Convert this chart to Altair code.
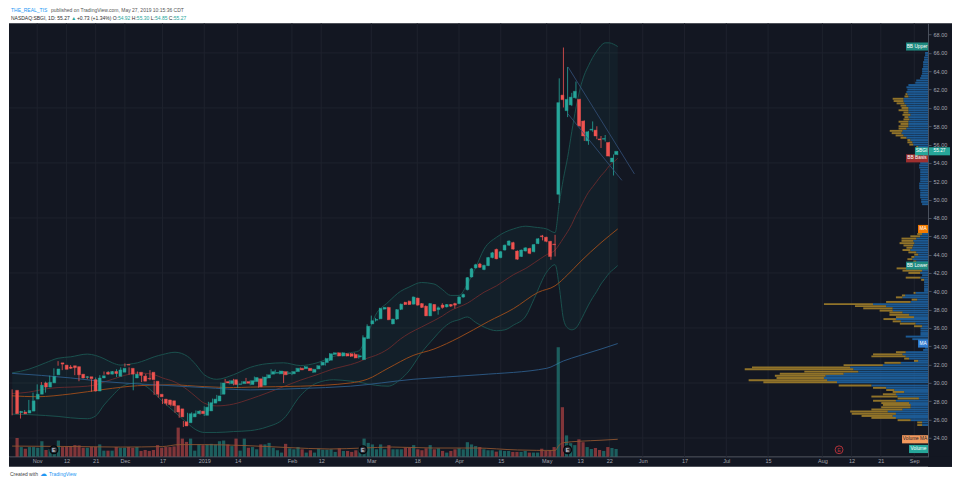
import altair as alt
import pandas as pd

W, H = 920, 434
BG = "#131722"
GRID = "#1e222d"
UP = "#26a69a"
DN = "#ef5350"
AXT = "#a3a6af"
FONT = "Liberation Sans"

# bar index 0 = 1 Nov 2018 (trading days; future part counts weekdays)
bar_index = list(range(-6, 140))
opens = [29.2, 26.76, 26.83, 26.72, 26.93, 28.24, 28.77, 30.01, 29.55, 30.01,
         30.89, 32.2, 31.95, 31.74, 31.88, 31.78, 30.96, 30.61, 30.68, 30.36,
         29.12, 30.54, 31.17, 30.96, 31.25, 30.72, 31.17, 32.02, 31.6, 30.54,
         31.17, 30.75, 30.5, 31.17, 30.19, 28.77, 28.24, 28.15, 28.06, 27.53,
         27.18, 25.77, 25.66, 26.3, 26.65, 26.93, 26.47, 26.95, 27.8, 28.03,
         28.77, 30.15, 29.93, 30.36, 29.85, 29.93, 30.15, 29.83, 30.15, 30.46,
         29.76, 30.54, 30.96, 31.07, 31.0, 31.24, 31.05, 31.0, 31.24, 31.6,
         31.56, 31.6, 31.17, 31.53, 31.95, 32.23, 32.48, 33.12, 33.29, 32.94,
         33.19, 33.19, 33.12, 32.83, 32.55, 34.85, 36.44, 36.85, 37.0, 38.06,
         38.24, 36.44, 36.97, 38.03, 38.8, 38.91, 38.6, 39.26, 38.66, 38.38,
         37.32, 38.56, 38.0, 38.5, 38.3, 38.56, 38.66, 38.66, 39.37, 40.18,
         41.56, 42.55, 42.98, 42.38, 42.8, 43.68, 44.57, 43.68, 44.5, 45.03,
         45.31, 44.39, 43.79, 44.39, 44.67, 44.32, 45.2, 46.05, 45.9, 45.45,
         45.15, 50.58, 61.4, 59.7, 60.33, 61.11, 60.94, 58.57, 56.41, 57.58,
         57.58, 56.62, 56.59, 56.23, 54.11, 54.92]
highs = [29.3, 27.0, 26.95, 27.05, 28.15, 28.95, 29.85, 30.1, 30.15, 30.8,
         31.6, 32.38, 32.05, 31.85, 31.95, 31.85, 31.0, 30.8, 30.75, 30.4,
         30.6, 30.85, 31.25, 31.3, 31.3, 31.5, 31.7, 32.13, 31.7, 31.05,
         31.25, 30.85, 31.0, 31.4, 30.25, 28.85, 28.3, 28.2, 28.1, 27.6,
         27.25, 25.85, 26.75, 26.8, 27.0, 27.05, 27.45, 27.95, 28.3, 28.7,
         30.05, 30.44, 30.3, 30.45, 30.2, 30.2, 30.55, 30.3, 30.7, 30.5,
         30.7, 30.95, 31.5, 31.45, 31.35, 31.3, 31.3, 31.3, 31.65, 31.7,
         31.85, 31.65, 31.55, 31.95, 32.35, 32.75, 33.25, 33.35, 33.35, 33.35,
         33.25, 33.25, 33.3, 33.12, 35.2, 36.4, 37.35, 37.1, 38.2, 38.3,
         38.3, 37.0, 38.05, 38.65, 38.85, 39.0, 39.45, 39.3, 38.7, 38.45,
         38.7, 38.6, 38.35, 38.7, 38.6, 38.6, 38.75, 39.45, 39.75, 41.55,
         42.55, 43.0, 43.1, 42.9, 43.75, 44.3, 44.65, 44.4, 45.1, 45.55,
         45.4, 44.45, 44.55, 44.8, 44.75, 45.15, 45.8, 46.15, 45.95, 45.5,
         46.16, 63.23, 66.59, 64.47, 61.65, 62.88, 61.0, 58.65, 57.5, 58.53,
         58.0, 56.94, 57.05, 56.3, 54.93, 55.30]
lows = [26.47, 26.65, 26.12, 26.6, 26.85, 28.1, 28.6, 29.45, 28.95, 29.95,
        30.8, 31.88, 31.4, 31.5, 31.55, 30.85, 30.19, 30.5, 30.4, 29.05,
        29.05, 30.45, 30.9, 30.9, 30.95, 30.65, 31.1, 31.78, 30.9, 29.2,
        30.75, 30.1, 30.35, 30.3, 28.7, 28.4, 27.7, 27.55, 27.45, 26.75,
        26.2, 25.2, 25.55, 26.2, 26.55, 26.55, 26.4, 26.9, 27.7, 27.95,
        28.7, 29.95, 29.85, 29.75, 29.47, 29.85, 29.9, 29.75, 30.1, 29.5,
        29.7, 30.45, 30.9, 31.0, 30.95, 30.0, 30.9, 30.85, 31.2, 31.4,
        31.5, 31.3, 31.1, 31.5, 31.9, 31.9, 32.4, 33.05, 32.9, 32.9,
        32.9, 32.85, 32.7, 32.66, 32.5, 34.8, 36.4, 36.7, 36.95, 38.0,
        36.85, 36.4, 36.9, 37.95, 38.5, 38.5, 38.55, 38.45, 38.2, 37.3,
        37.3, 37.8, 37.45, 38.1, 38.25, 38.3, 38.13, 38.6, 39.3, 40.1,
        41.5, 42.5, 42.55, 42.3, 42.75, 43.6, 43.5, 43.6, 44.45, 44.95,
        44.55, 43.45, 43.75, 44.35, 44.05, 44.25, 45.15, 45.55, 45.35, 43.44,
        43.8, 49.62, 60.05, 59.0, 60.2, 61.0, 57.95, 56.4, 55.98, 57.4,
        56.59, 55.63, 56.34, 54.7, 52.63, 54.85]
closes = [26.65, 26.9, 26.65, 27.0, 28.06, 28.77, 29.76, 29.55, 30.08, 30.72,
          31.53, 32.06, 31.49, 31.6, 31.67, 30.89, 30.54, 30.68, 30.47, 29.12,
          30.54, 30.79, 30.96, 31.25, 31.03, 31.42, 31.6, 31.95, 30.96, 30.96,
          30.82, 30.19, 30.45, 30.36, 28.77, 28.49, 27.78, 27.64, 27.53, 26.83,
          26.3, 25.31, 26.65, 26.65, 26.93, 26.65, 27.36, 27.85, 28.24, 28.59,
          30.0, 30.0, 30.25, 29.83, 29.9, 30.15, 29.97, 30.25, 30.6, 29.58,
          30.64, 30.89, 31.24, 31.14, 31.3, 30.89, 31.1, 31.24, 31.6, 31.43,
          31.77, 31.35, 31.49, 31.88, 32.27, 32.66, 33.19, 33.29, 32.94, 33.29,
          32.94, 32.91, 32.73, 32.97, 34.95, 36.19, 36.79, 36.93, 38.14, 38.24,
          36.9, 36.97, 38.0, 38.6, 38.56, 38.56, 39.37, 38.49, 38.24, 37.32,
          38.66, 37.85, 38.2, 38.24, 38.56, 38.38, 38.49, 39.37, 39.65, 41.49,
          42.45, 42.9, 42.62, 42.83, 43.68, 44.2, 43.54, 44.32, 45.03, 45.49,
          44.6, 43.5, 44.5, 44.74, 44.14, 45.1, 45.73, 45.95, 45.45, 43.79,
          45.08, 60.58, 60.9, 60.94, 61.18, 61.82, 58.04, 56.94, 57.4, 57.68,
          56.94, 56.52, 56.66, 54.75, 54.54, 55.27]
volumes = [19.3, 10, 8.3, 10, 10, 9.3, 16, 7, 8, 10.3,
           16.7, 10, 10.7, 11, 12, 11.7, 9.3, 9.3, 10.3, 10.3,
           12.7, 6.3, 6.3, 6.3, 10, 9.3, 9.3, 10, 9.3, 10,
           6, 7, 6, 7, 12, 9.3, 10, 10, 10.7, 30,
           18.7, 15.3, 18.7, 6.3, 12.7, 12, 12.7, 13.3, 12.7, 16,
           16.7, 12.7, 11, 18.7, 6.3, 18.7, 9.3, 10, 7.7, 12.7,
           12.7, 14.3, 9.3, 6.7, 4.3, 13.3, 8.7, 7.7, 10, 7.7,
           4.3, 6.7, 4.3, 8.3, 7.3, 7.3, 7.7, 5, 8.7, 6,
           6, 5, 6.7, 8.7, 18.7, 14.3, 12.7, 7.7, 12.7, 7.7,
           12, 7.7, 7.7, 7.7, 9.3, 9.3, 12, 7.7, 6.7, 8.7,
           12, 7.7, 8.7, 6, 4.3, 6, 7.7, 8.7, 7.7, 15,
           12.7, 11, 10, 7.7, 6.7, 6.7, 5.3, 6.7, 6, 6,
           5, 5, 5, 6, 4.3, 4.3, 4.3, 8.3, 6, 6.7,
           10, 112.7, 51, 22, 14, 12, 18, 15, 10, 8,
           9, 7, 6, 10, 9, 8]

bb_idx = [-6, -2, 2, 5, 8, 12, 14, 16, 18, 20, 22, 24, 26, 28, 30, 33, 36, 38, 40, 43,
          47, 51, 55, 59, 63, 67, 71, 75, 77, 79, 81, 84, 87, 89, 92, 95, 97, 99, 101, 103,
          105, 107, 110, 112, 114, 117, 119, 122, 124, 125, 126, 127, 128, 129, 130, 131,
          132, 133, 134, 135, 136, 137, 138, 139]
bb_upper = [31.1, 31.5, 32.2, 32.7, 32.85, 33.15, 33.0, 32.65, 32.2, 31.95,
            32.05, 32.2, 32.5, 32.85, 33.1, 33.35, 32.9, 32.0, 30.9, 30.4,
            30.9, 31.7, 32.1, 32.2, 31.9, 32.2, 32.9, 33.3, 33.5, 35.2,
            37.4, 38.8, 40.0, 40.45, 40.96, 40.8, 40.2, 39.55, 39.55, 40.8,
            42.6, 44.6, 45.9, 46.45, 46.8, 47.1, 47.0, 46.8, 46.4, 49.6,
            52.3, 54.6, 57.4, 60.0, 62.1, 63.6, 64.6, 65.5, 66.2, 66.8,
            67.1, 67.1, 66.95, 66.7]
bb_lower = [26.6, 26.55, 26.45, 26.35, 26.2, 26.1, 26.4, 27.6, 28.6, 29.5,
            29.9, 30.0, 29.65, 28.9, 28.0, 26.8, 25.6, 24.9, 24.6, 24.6,
            24.7, 24.8, 25.2, 26.1, 28.6, 30.0, 30.35, 30.2, 30.1, 29.9,
            29.75, 29.65, 30.4, 31.3, 33.3, 34.9, 35.9, 36.6, 36.9, 37.2,
            36.6, 36.1, 35.7, 35.8, 36.3, 37.3, 39.2, 42.1, 42.9, 40.5,
            37.0, 36.0, 35.8, 36.0, 36.7, 37.6, 38.5, 39.3, 40.0, 40.8,
            41.4, 42.0, 42.4, 42.8]
bb_basis = [28.85, 29.0, 29.35, 29.5, 29.55, 29.65, 29.8, 30.1, 30.4, 30.7,
            30.95, 31.1, 31.05, 30.9, 30.55, 30.1, 29.25, 28.5, 27.8, 27.5,
            27.7, 28.25, 28.9, 29.6, 30.3, 30.9, 31.55, 32.0, 32.3, 32.7,
            33.0, 33.7, 34.8, 35.4, 36.1, 36.8, 37.3, 37.9, 38.3, 38.7,
            39.3, 39.9, 40.6, 41.2, 41.8, 42.5, 43.1, 44.0, 44.5, 45.1,
            45.8, 46.5, 47.3, 48.3, 49.1, 50.0, 50.8, 51.4, 52.0, 52.6,
            53.1, 53.7, 54.1, 54.5]

ma_orange_idx = [-6, 0, 8, 16, 24, 32, 40, 47, 51, 63, 75, 79, 84, 90, 95, 101, 108,
                 114, 120, 124, 127, 130, 135, 139]
ma_orange = [28.6, 28.5, 28.8, 29.3, 29.7, 29.8, 29.6, 29.5, 29.55, 29.65, 30.0, 30.4,
             31.6, 33.0, 33.7, 34.95, 36.7, 38.1, 39.9, 40.6, 41.8, 43.2, 45.3, 46.8]
ma_blue_idx = [-6, 8, 16, 28, 40, 51, 63, 75, 90, 106, 122, 126, 130, 135, 139]
ma_blue = [31.05, 30.55, 30.15, 29.8, 29.5, 29.25, 29.4, 29.65, 30.4, 30.9, 31.6,
           32.4, 33.0, 33.7, 34.3]
vol_ma_idx = [-6, 10, 20, 30, 34, 40, 50, 60, 70, 78, 85, 95, 105, 115, 124, 125, 126,
              130, 135, 139]
vol_ma = [11, 10.5, 10, 10.5, 12.5, 12.5, 11.5, 9.5, 8, 9, 10, 9, 9, 7, 6.5, 12, 14.5,
          16, 17, 18]

trend_a_idx = [127.1, 143.0]
trend_a = [64.47, 52.8]
trend_b_idx = [127.1, 140.0]
trend_b = [59.35, 52.1]

earn_idx = [4, 78, 127]
earn_future_idx = [192]

price_ticks = list(range(24, 70, 2))
grid_prices = [24, 30, 36, 42, 48, 54, 60, 66]
date_tick_idx = [0, 7, 14, 21, 30, 40, 48, 61, 68, 80, 91, 101, 111, 122, 130, 137,
                 145, 155, 165, 175, 188, 195, 202, 210]
date_tick_lab = ["Nov", "12", "21", "Dec", "17", "2019", "14", "Feb", "12", "Mar", "18",
                 "Apr", "15", "May", "13", "22", "Jun", "17", "Jul", "15", "Aug", "12",
                 "21", "Sep"]

# visible-range volume profile: price row, up volume, down volume
vp_price = [66.0, 65.75, 65.5, 65.25, 65.0, 64.75, 64.5, 64.25, 64.0, 63.75, 63.5, 63.25,
            63.0, 62.75, 62.5, 62.25, 62.0, 61.75, 61.5, 61.25, 61.0, 60.75, 60.5, 60.25,
            60.0, 59.75, 59.5, 59.25, 59.0, 58.75, 58.5, 58.25, 58.0, 57.75, 57.5, 57.25,
            57.0, 56.75, 56.5, 56.25, 56.0, 55.75, 55.5, 55.25, 55.0, 54.75, 54.5, 54.25,
            54.0, 53.75, 53.5, 53.25, 53.0, 52.75, 52.5, 52.25, 52.0, 51.75, 51.5, 51.25,
            51.0, 50.75, 50.5, 50.25, 50.0, 49.75, 49.5,
            46.5, 46.25, 46.0, 45.75, 45.5, 45.25, 45.0, 44.75, 44.5, 44.25, 44.0, 43.75,
            43.5, 43.25, 43.0, 42.75, 42.5, 42.25, 42.0, 41.75,
            41.49, 41.25, 41.0, 40.75, 40.5, 40.25, 40.05, 39.83, 39.55, 39.34, 39.09,
            38.84, 38.6, 38.38, 38.14, 37.89, 37.68, 37.43, 37.18, 36.97, 36.72, 36.47,
            36.19, 35.95, 35.7, 35.45, 35.25, 35.06, 34.78, 34.55, 34.3, 34.07, 33.85,
            33.6, 33.36, 33.12, 32.9, 32.66, 32.41, 32.2, 31.95, 31.7, 31.49, 31.24, 31.0,
            30.78, 30.54, 30.29, 30.08, 29.72, 29.47, 29.23, 29.02, 28.77, 28.52, 28.31,
            28.06, 27.81, 27.6, 27.35, 27.11, 26.89, 26.65, 26.4, 26.19, 25.94, 25.69,
            25.41]
vp_up = [3, 3, 4, 4, 5, 5, 5, 6, 6, 6, 7, 8,
         12, 13, 20, 22, 21, 22, 21, 20, 25, 25, 24, 22,
         20, 20, 20, 18, 20, 19, 20, 20, 20, 22, 26, 27,
         25, 22, 18, 16, 15, 10, 8, 8, 9, 9, 8, 8,
         8, 9, 9, 8, 8, 8, 8, 8, 8, 9, 9, 9,
         8, 8, 8, 8, 7, 7, 6,
         3, 6, 8, 12, 15, 14, 15, 16, 18, 12, 10, 14,
         16, 12, 10, 8, 7, 6, 8, 6,
         7.7, 4, 4, 4, 4, 4, 4, 12.7, 23.3, 26, 11,
         17.7, 56, 42.7, 36, 36, 26, 19.3, 14.3, 32.7, 27.7, 12.7,
         6, 7.7, 7.7, 7.7, 7.7, 22.7, 16, 3, 3, 3, 3,
         5, 22.7, 26, 22.7, 19.3, 10, 27.7, 46, 79.3, 76, 71, 86,
         104.3, 106, 102.7, 92.7, 57.7, 42.7, 34.3, 24.3, 32.7, 31, 9.3,
         32.7, 19.3, 17.7, 17.7, 26, 41, 32.7, 36, 32.7, 17.7, 6,
         6]
vp_down = [0, 0, 0, 0, 0, 0, 0, 0, 0, 0, 0, 0,
           0, 0, 0, 0, 0, 0, 2, 4, 11, 10, 8, 6,
           7, 10, 5, 8, 4, 6, 10, 8, 10, 8, 13, 10,
           8, 6, 3, 5, 4, 2, 0, 0, 0, 0, 0, 0,
           0, 0, 0, 0, 0, 0, 0, 0, 0, 0, 0, 0,
           0, 0, 0, 0, 0, 0, 0,
           4, 5, 10, 15, 12, 15, 10, 6, 8, 8, 4, 3,
           5, 3, 0, 2, 25, 20, 12, 0,
           15, 3, 0, 0, 0, 0, 0, 2, 3.3, 6.7, 5.7,
           25, 50, 31.7, 30, 13.3, 13.3, 20, 18.3, 12.7, 8.3, 16,
           8.3, 0, 0, 0, 0, 0, 0, 0, 0, 0, 0,
           0, 10, 30, 35, 5, 4.3, 16.7, 40, 100, 110.7, 55, 65,
           51.7, 48.3, 80, 75, 33.3, 13.3, 8.3, 11.7, 13.3, 26.7, 21.7,
           23.3, 28.3, 28.3, 30, 31.7, 38.3, 45, 31.7, 25, 13.3, 5,
           5]

# ---------------- scales ----------------
XS = alt.Scale(domain=[-6.75, 213.3], nice=False, zero=False)
YP = alt.Scale(domain=[21.95, 69.24], nice=False, zero=False)
YV = alt.Scale(domain=[0, 446], nice=False, zero=True)
XVP = alt.Scale(domain=[0, 936], nice=False, zero=True, reverse=True)


def xq(field="i"):
    return alt.X(f"{field}:Q", scale=XS, axis=None)


def yp(field):
    return alt.Y(f"{field}:Q", scale=YP, axis=None)


df = pd.DataFrame({"i": bar_index, "o": opens, "h": highs, "l": lows,
                   "c": closes, "v": volumes})
bb = pd.DataFrame({"i": bb_idx, "up": bb_upper, "lo": bb_lower, "mid": bb_basis})
one = pd.DataFrame({"a": [0]})
cond = alt.condition("datum.c >= datum.o", alt.value(UP), alt.value(DN))

layers = []

# dark strips below / right of plot (axis areas)
layers.append(alt.Chart(one).mark_rect(color=BG).encode(
    x=alt.value(W), x2=alt.value(W + 24), y=alt.value(0), y2=alt.value(H + 10)))
layers.append(alt.Chart(one).mark_rect(color=BG).encode(
    x=alt.value(0), x2=alt.value(W + 24), y=alt.value(H), y2=alt.value(H + 10)))

# gridlines
layers.append(alt.Chart(pd.DataFrame({"i": date_tick_idx})).mark_rule(
    color=GRID, strokeWidth=1).encode(x=xq(), y=alt.value(0), y2=alt.value(H)))
layers.append(alt.Chart(pd.DataFrame({"p": grid_prices})).mark_rule(
    color=GRID, strokeWidth=1).encode(y=yp("p"), x=alt.value(0), x2=alt.value(W)))

# volume profile
vp = pd.DataFrame({"p": vp_price, "u": vp_up, "d": vp_down})
vp_base = alt.Chart(vp).transform_calculate(
    top="datum.p + 0.105", bot="datum.p - 0.105", tot="datum.u + datum.d")
layers.append(vp_base.mark_rect(color="#1f66a8", opacity=0.85).encode(
    x=alt.X("zero:Q", scale=XVP, axis=None), x2="u:Q",
    y=yp("top"), y2="bot:Q").transform_calculate(zero="0"))
layers.append(vp_base.mark_rect(color="#a8842a", opacity=0.85).encode(
    x=alt.X("u:Q", scale=XVP, axis=None), x2="tot:Q",
    y=yp("top"), y2="bot:Q"))

# Bollinger band fill and lines
layers.append(alt.Chart(bb).mark_area(color=UP, opacity=0.06, interpolate="monotone").encode(
    x=xq(), y=yp("up"), y2="lo:Q"))
for col, colr, sw in [("up", "#1a504d", 1), ("lo", "#1a504d", 1), ("mid", "#6a2a2c", 0.9)]:
    layers.append(alt.Chart(bb).mark_line(color=colr, strokeWidth=sw,
                                          interpolate="monotone").encode(x=xq(), y=yp(col)))

# moving averages
layers.append(alt.Chart(pd.DataFrame({"i": ma_orange_idx, "v": ma_orange})).mark_line(
    color="#94491b", strokeWidth=1, interpolate="monotone").encode(x=xq(), y=yp("v")))
layers.append(alt.Chart(pd.DataFrame({"i": ma_blue_idx, "v": ma_blue})).mark_line(
    color="#2a5580", strokeWidth=1, interpolate="monotone").encode(x=xq(), y=yp("v")))

# volume
layers.append(alt.Chart(df).mark_bar(width=3.2, opacity=0.5).encode(
    x=xq(), y=alt.Y("v:Q", scale=YV, axis=None), color=cond))
layers.append(alt.Chart(pd.DataFrame({"i": vol_ma_idx, "v": vol_ma})).mark_line(
    color="#8e5530", strokeWidth=0.9, interpolate="monotone").encode(
    x=xq(), y=alt.Y("v:Q", scale=YV, axis=None)))

# candles
labexpr = "".join(f"datum.value == {i} ? '{s}' : " for i, s in zip(date_tick_idx, date_tick_lab)) + "''"
xaxis = alt.Axis(orient="bottom", values=date_tick_idx, labelExpr=labexpr, labelFontSize=5.5,
                 labelColor=AXT, labelFont=FONT, ticks=False, domainColor="#2f3441",
                 grid=False, labelPadding=1.5, zindex=1, title=None, labelOverlap=False,
                 labelFlush=False)
yaxis = alt.Axis(orient="right", values=price_ticks, format=".2f", labelFontSize=5.5,
                 labelColor=AXT, labelFont=FONT, tickColor="#4c525e", tickSize=3,
                 domainColor="#4c525e", grid=False, labelPadding=2, zindex=1, title=None,
                 labelOverlap=False)
layers.append(alt.Chart(df).mark_rule(strokeWidth=0.8).encode(
    x=alt.X("i:Q", scale=XS, axis=xaxis), y=alt.Y("l:Q", scale=YP, axis=yaxis),
    y2="h:Q", color=cond))
layers.append(alt.Chart(df).mark_bar(width=2.9, strokeWidth=0.4).encode(
    x=xq(), y=yp("o"), y2="c:Q", color=cond, stroke=cond))

# drawn channel lines
for ti, tv in [(trend_a_idx, trend_a), (trend_b_idx, trend_b)]:
    layers.append(alt.Chart(pd.DataFrame({"i": ti, "v": tv})).mark_line(
        color="#34507a", strokeWidth=0.8).encode(x=xq(), y=yp("v")))

# earnings markers
layers.append(alt.Chart(pd.DataFrame({"i": earn_idx})).mark_circle(
    size=62, color="#2a2e39", opacity=1, stroke="#05070a", strokeWidth=1.2).encode(
    x=xq(), y=alt.value(H - 7)))
layers.append(alt.Chart(pd.DataFrame({"i": earn_idx})).mark_text(
    text="E", fontSize=5.5, color="#d1d4dc", font=FONT, fontWeight="bold").encode(
    x=xq(), y=alt.value(H - 7)))
layers.append(alt.Chart(pd.DataFrame({"i": earn_future_idx})).mark_circle(
    size=62, color=BG, opacity=1, stroke="#b2323a", strokeWidth=1).encode(
    x=xq(), y=alt.value(H - 7)))
layers.append(alt.Chart(pd.DataFrame({"i": earn_future_idx})).mark_text(
    text="E", fontSize=5.5, color="#b2323a", font=FONT).encode(
    x=xq(), y=alt.value(H - 7)))


# right-side value tags
def tag(text, value, x1, x2, fill, scale, half, tcolor="#ffffff"):
    d = pd.DataFrame({"v": [value], "t": [text]})
    base = alt.Chart(d).transform_calculate(top=f"datum.v + {half}", bot=f"datum.v - {half}")
    r = base.mark_rect(color=fill).encode(
        x=alt.value(x1), x2=alt.value(x2),
        y=alt.Y("top:Q", scale=scale, axis=None), y2="bot:Q")
    t = base.mark_text(fontSize=4.8, color=tcolor, font=FONT).encode(
        x=alt.value((x1 + x2) / 2), y=alt.Y("v:Q", scale=scale, axis=None), text="t:N")
    return [r, t]


hp = 0.44
hv = 4.2
layers += tag("BB Upper", bb_upper[-1], 898, 920, "#1f8a80", YP, hp)
layers += tag("BB Basis", bb_basis[-1], 898, 920, "#9e2f2f", YP, hp)
layers += tag("SBGI", closes[-1], 907, 920, UP, YP, hp)
layers += tag(f"{closes[-1]:.2f}", closes[-1], 921, 942, UP, YP, hp)
layers += tag("MA", ma_orange[-1], 910, 920, "#f57c00", YP, hp)
layers += tag("BB Lower", bb_lower[-1], 898, 920, "#1f8a80", YP, hp)
layers += tag("MA", ma_blue[-1], 910, 920, "#2f7bd0", YP, hp)
layers += tag("Volume MA", vol_ma[-1], 894, 920, "#f39a5e", YV, hv, "#1e222d")
layers += tag("Volume", volumes[-1], 901, 920, UP, YV, hv)


# header and footer text
def txt(s, x, y, color, size=5, weight="normal"):
    return alt.Chart(pd.DataFrame({"t": [s]})).mark_text(
        align="left", baseline="middle", fontSize=size, color=color, font=FONT,
        fontWeight=weight).encode(x=alt.value(x), y=alt.value(y), text="t:N")


GREEN = "#26a69a"
DARK = "#2a2a2a"
layers.append(txt("THE_REAL_TIS", 2, -13, "#2196f3"))
layers.append(txt("published on TradingView.com, May 27, 2019 10:15:36 CDT", 42, -13, "#555555"))
layers.append(txt("NASDAQ:SBGI, 1D: 55.27", 2, -5, DARK))
layers.append(txt("\u25b2", 62.3, -5, GREEN))
layers.append(txt("+0.73 (+1.34%) O:", 68, -5, DARK))
layers.append(txt("54.92", 109, -5, GREEN))
layers.append(txt("H:", 123, -5, DARK))
layers.append(txt("55.30", 128, -5, GREEN))
layers.append(txt("L:", 142, -5, DARK))
layers.append(txt("54.85", 146.2, -5, GREEN))
layers.append(txt("C:", 160, -5, DARK))
layers.append(txt("55.27", 165, -5, GREEN))
layers.append(txt("Created with", 1, H + 17, "#444444"))
layers.append(txt("\u2601", 31, H + 17, "#2196f3", 7))
layers.append(txt("TradingView", 40, H + 17, "#2196f3"))

chart = alt.layer(*layers).resolve_scale(x="independent", y="independent").properties(
    width=W, height=H, padding={"left": 0, "top": 0, "right": 0, "bottom": 0},
    background="white"
).configure_view(fill=BG, stroke=None)

chart.save("out.html", embed_options={"renderer": "svg", "actions": False})
